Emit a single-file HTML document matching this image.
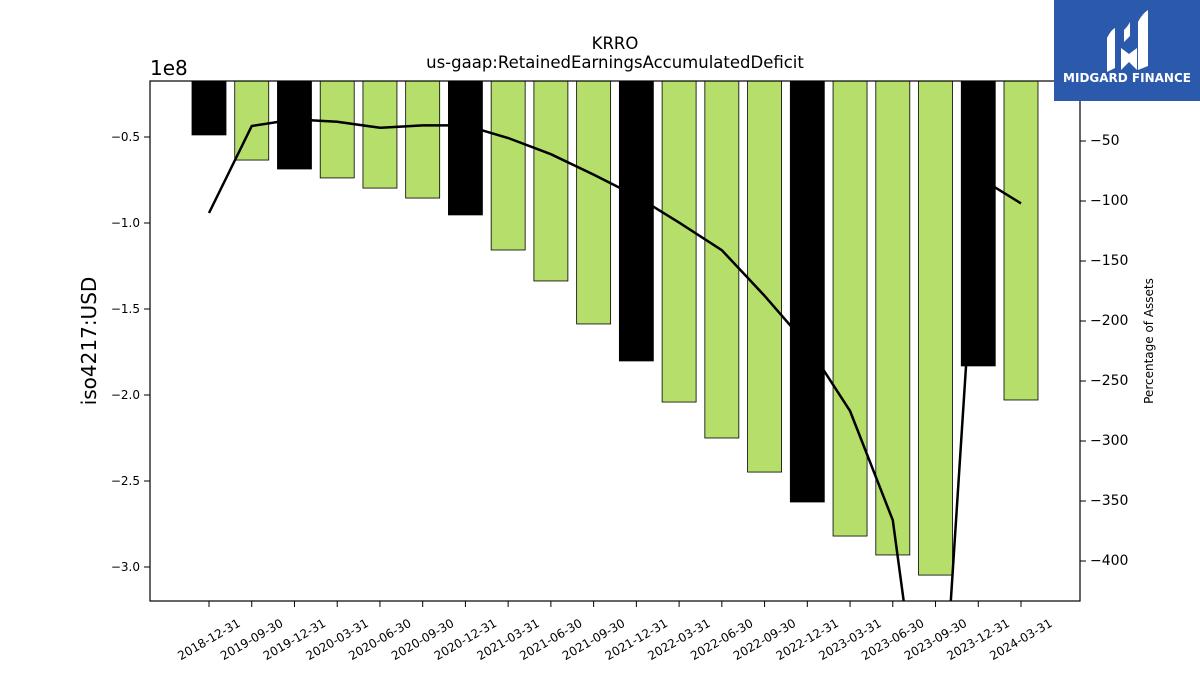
<!DOCTYPE html>
<html><head><meta charset="utf-8"><style>
html,body{margin:0;background:#fff;width:1200px;height:675px;overflow:hidden;font-family:"Liberation Sans","DejaVu Sans",sans-serif}
svg{display:block}
</style></head><body>
<svg id="chart" width="1200" height="675" xmlns="http://www.w3.org/2000/svg" font-family="DejaVu Sans, Liberation Sans, sans-serif">
<defs><clipPath id="clip"><rect x="150" y="81" width="930" height="520"/></clipPath></defs>
<text x="615" y="49" font-size="16.5" text-anchor="middle">KRRO</text>
<text x="615" y="68" font-size="16.5" text-anchor="middle">us-gaap:RetainedEarningsAccumulatedDeficit</text>
<g id="bars" clip-path="url(#clip)"></g>
<g id="line" clip-path="url(#clip)"></g>
<rect x="150" y="81" width="930" height="520" fill="none" stroke="#000" stroke-width="1.2"/>
<g id="axes"></g>
<text x="150" y="75" font-size="20">1e8</text>
<text transform="translate(96,341) rotate(-90)" font-size="20" text-anchor="middle">iso4217:USD</text>
<text transform="translate(1153,341) rotate(-90)" font-size="12" text-anchor="middle">Percentage of Assets</text>
<g>
<rect x="1054" y="0" width="146" height="101" fill="#2b5aad"/>
<path d="M1107 38 q4 -8 8 -10 v40 l-8 4z M1124 30 q4 -4 6 -8 v14 l-6 6z M1121 48 l8 6 l8 -6 v22 l-8 -8 l-8 8z M1138 22 q4 -8 10 -12 v56 l-10 4z" fill="#fff"/>
<text x="1127" y="82" font-size="12" font-weight="bold" fill="#fff" text-anchor="middle">MIDGARD FINANCE</text>
</g>
</svg>
<script>
const categories=["2018-12-31","2019-09-30","2019-12-31","2020-03-31","2020-06-30","2020-09-30","2020-12-31","2021-03-31","2021-06-30","2021-09-30","2021-12-31","2022-03-31","2022-06-30","2022-09-30","2022-12-31","2023-03-31","2023-06-30","2023-09-30","2023-12-31","2024-03-31"];
const values=[-0.488,-0.634,-0.686,-0.738,-0.797,-0.855,-0.953,-1.157,-1.337,-1.587,-1.802,-2.041,-2.25,-2.448,-2.622,-2.82,-2.93,-3.047,-1.831,-2.029];
const annual=[true,false,true,false,false,false,true,false,false,false,true,false,false,false,true,false,false,false,true,false];
const pct=[-110,-37.5,-32,-34,-39,-37,-37,-47.5,-61,-78,-96,-118,-141,-179,-220,-275,-366,-630,-80,-102];
const yTicks=[-0.5,-1.0,-1.5,-2.0,-2.5,-3.0];
const y2Ticks=[-50,-100,-150,-200,-250,-300,-350,-400];
const NS="http://www.w3.org/2000/svg";
const x=i=>209+i*(1021-209)/19;
const y=v=>51-v*172;
const y2=v=>81-v*1.2;
function mk(t,a,p){const e=document.createElementNS(NS,t);for(const k in a)e.setAttribute(k,a[k]);p.appendChild(e);return e;}
const bars=document.getElementById('bars'),line=document.getElementById('line'),axes=document.getElementById('axes');
values.forEach((v,i)=>{const r=mk('rect',{x:x(i)-17,y:y(0),width:34,height:y(v)-y(0),fill:annual[i]?'#000':'#b5de6b',stroke:'#000','stroke-width':0.8},bars);

});
const pl=mk('polyline',{points:pct.map((v,i)=>x(i)+','+y2(v)).join(' '),fill:'none',stroke:'#000','stroke-width':2.5},line);


yTicks.forEach(t=>{mk('line',{x1:144,x2:150,y1:y(t),y2:y(t),stroke:'#000'},axes);
const tx=mk('text',{x:140,y:y(t)+4,'font-size':12,'text-anchor':'end'},axes);tx.textContent=(t<0?'\u2212':'')+Math.abs(t).toFixed(1);

});
y2Ticks.forEach(t=>{mk('line',{x1:1080,x2:1086,y1:y2(t),y2:y2(t),stroke:'#000'},axes);
const tx=mk('text',{x:1090,y:y2(t)+4,'font-size':14},axes);tx.textContent='\u2212'+Math.abs(t);

});
categories.forEach((c,i)=>{mk('line',{x1:x(i),x2:x(i),y1:601,y2:607,stroke:'#000'},axes);
const tx=mk('text',{transform:`translate(${x(i)+2},${643}) rotate(-30)`,'font-size':12,'text-anchor':'middle'},axes);tx.textContent=c;

});
</script>
</body></html>
